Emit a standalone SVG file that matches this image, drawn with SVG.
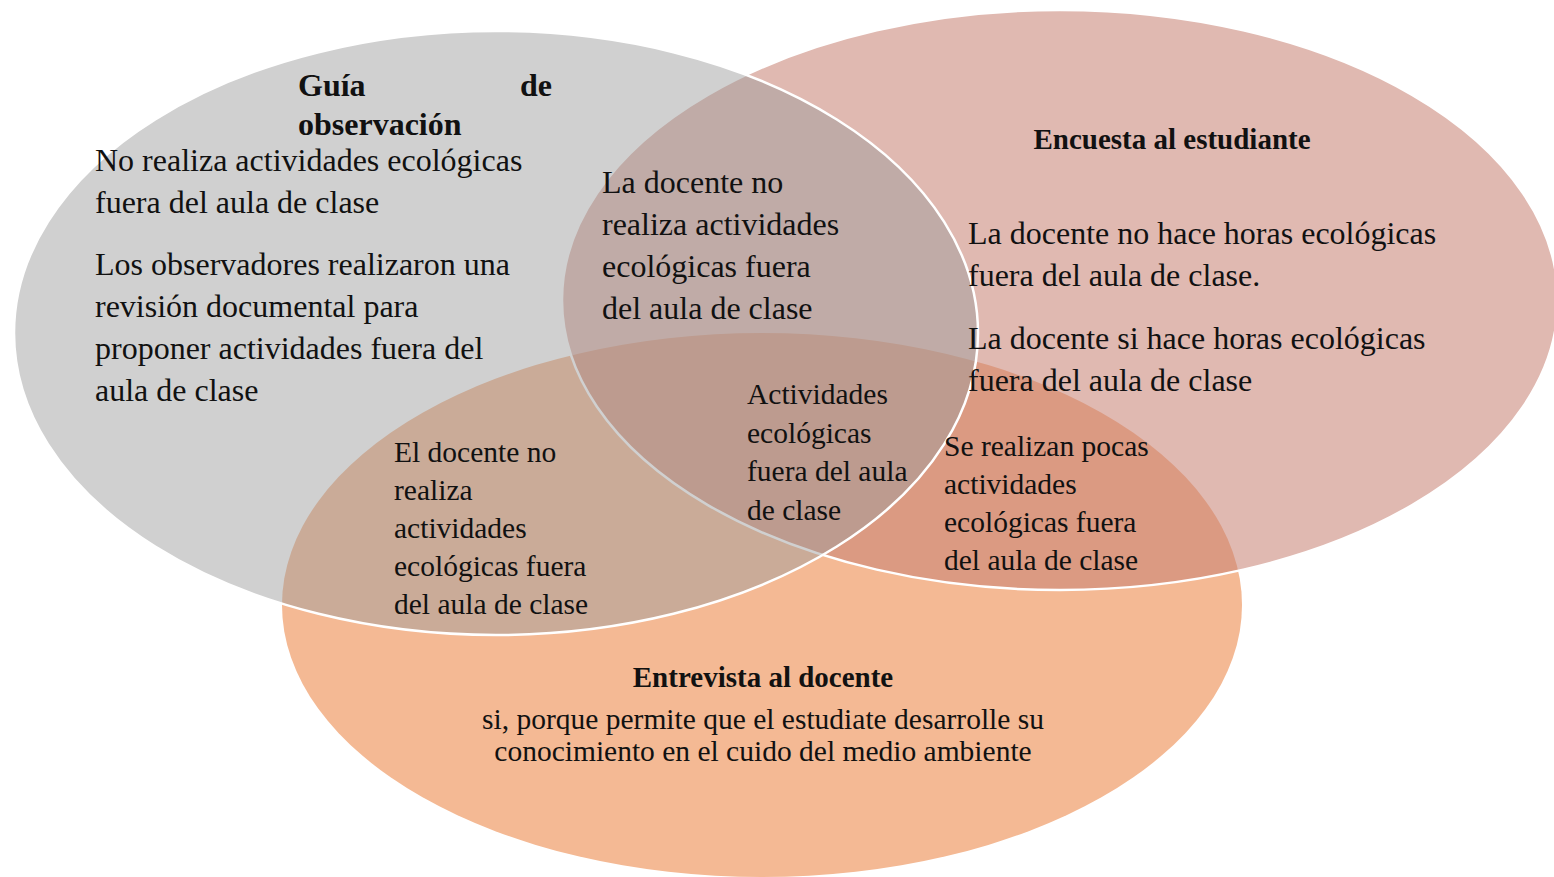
<svg xmlns="http://www.w3.org/2000/svg" width="1554" height="877" viewBox="0 0 1554 877">
<style>
.t{font-family:"Liberation Serif","Times New Roman",serif;fill:#111;}
.b{font-size:32px;}
.s{font-size:29.5px;}
.h{font-weight:bold;font-size:29px;}
.h2{font-weight:bold;font-size:32px;}
.c{text-anchor:middle;}
</style>
<rect width="1554" height="877" fill="#ffffff"/>
<g id="entrevista">
<ellipse cx="762" cy="605" rx="480" ry="272" fill="#f4b994"/>
</g>
<g id="encuesta">
<ellipse cx="1060" cy="300" rx="498" ry="290" fill="rgb(200,130,116)" fill-opacity="0.56" stroke="#ffffff" stroke-width="2.5"/>
</g>
<g id="guia">
<ellipse cx="496" cy="333" rx="482" ry="302" fill="rgb(157,157,157)" fill-opacity="0.48" stroke="#ffffff" stroke-width="2.5"/>
</g>
<g id="labels-guia">
<text class="t h2" y="96"><tspan x="298">Guía</tspan><tspan x="552" text-anchor="end">de</tspan></text>
<text class="t h2" x="298" y="135">observación</text>
<text class="t b" x="95" y="171">No realiza actividades ecológicas</text>
<text class="t b" x="95" y="213">fuera del aula de clase</text>
<text class="t b" x="95" y="275">Los observadores realizaron una</text>
<text class="t b" x="95" y="317">revisión documental para</text>
<text class="t b" x="95" y="359">proponer actividades fuera del</text>
<text class="t b" x="95" y="401">aula de clase</text>
</g>
<g id="labels-guia-encuesta">
<text class="t b" x="602" y="193">La docente no</text>
<text class="t b" x="602" y="235">realiza actividades</text>
<text class="t b" x="602" y="277">ecológicas fuera</text>
<text class="t b" x="602" y="319">del aula de clase</text>
</g>
<g id="labels-encuesta">
<text class="t h c" x="1172" y="149">Encuesta al estudiante</text>
<text class="t b" x="968" y="244">La docente no hace horas ecológicas</text>
<text class="t b" x="968" y="286">fuera del aula de clase.</text>
<text class="t b" x="968" y="349">La docente si hace horas ecológicas</text>
<text class="t b" x="968" y="391">fuera del aula de clase</text>
</g>
<g id="labels-centro">
<text class="t s" x="747" y="404">Actividades</text>
<text class="t s" x="747" y="443">ecológicas</text>
<text class="t s" x="747" y="481">fuera del aula</text>
<text class="t s" x="747" y="520">de clase</text>
</g>
<g id="labels-guia-entrevista">
<text class="t s" x="394" y="462">El docente no</text>
<text class="t s" x="394" y="500">realiza</text>
<text class="t s" x="394" y="538">actividades</text>
<text class="t s" x="394" y="576">ecológicas fuera</text>
<text class="t s" x="394" y="614">del aula de clase</text>
</g>
<g id="labels-encuesta-entrevista">
<text class="t s" x="944" y="456">Se realizan pocas</text>
<text class="t s" x="944" y="494">actividades</text>
<text class="t s" x="944" y="532">ecológicas fuera</text>
<text class="t s" x="944" y="570">del aula de clase</text>
</g>
<g id="labels-entrevista">
<text class="t h c" x="763" y="687">Entrevista al docente</text>
<text class="t s c" x="763" y="729">si, porque permite que el estudiate desarrolle su</text>
<text class="t s c" x="763" y="761">conocimiento en el cuido del medio ambiente</text>
</g>
<g id="connectors"></g>
</svg>
